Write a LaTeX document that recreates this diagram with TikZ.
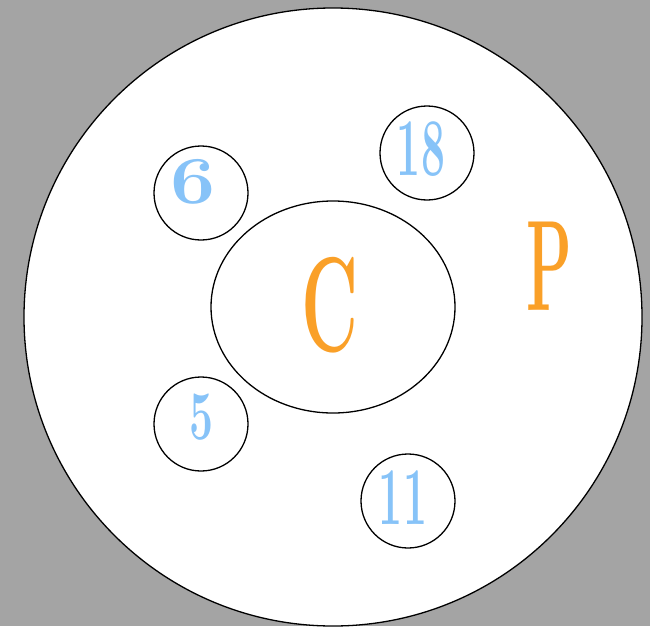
\documentclass[tikz,border=0pt]{standalone}
\usepackage{graphicx}
\usetikzlibrary{shapes.geometric}
\definecolor{bgGrey}{RGB}{164,164,164}
\definecolor{letterOrange}{RGB}{250,160,40}
\definecolor{digitBlue}{RGB}{135,195,248}

\begin{document}
\begin{tikzpicture}[x=1pt, y=-1pt, line width=1.3pt,
  ring/.style={draw, circle, minimum size=94pt, inner sep=0pt},
  digit/.style={text=digitBlue, inner sep=0pt, font=\fontsize{82}{82}\selectfont\bfseries},
  letter/.style={text=letterOrange, inner sep=0pt}]
  \fill[bgGrey] (0,0) rectangle (650,626);
  \useasboundingbox (0,0) rectangle (650,626);

  \node[draw, circle, fill=white, minimum size=618pt, inner sep=0pt] (outer) at (333,317) {};
  \node[draw, ellipse, minimum width=244pt, minimum height=212pt, inner sep=0pt] (core) at (333,307) {};

  \node[ring] (r6) at (201,193) {};
  \node[ring] (r18) at (427,153) {};
  \node[ring] (r5) at (201,424) {};
  \node[ring] (r11) at (408,501) {};

  \node[digit] (n6) at (193,182) {\scalebox{0.98}[0.82]{6}};
  \node[digit] (n18) at (421,149) {\scalebox{0.52}[1]{18}};
  \node[digit] (n5) at (202,417) {\scalebox{0.52}[0.85]{5}};
  \node[digit] (n11) at (403,498) {\scalebox{0.52}[1]{11}};

  \node[letter, font=\fontsize{135}{135}\selectfont\bfseries] (cname) at (330,305) {\scalebox{0.52}[1]{C}};
  \node[letter, font=\fontsize{129}{129}\selectfont\bfseries] (pname) at (549,266) {\scalebox{0.46}[1]{P}};
\end{tikzpicture}
\end{document}
